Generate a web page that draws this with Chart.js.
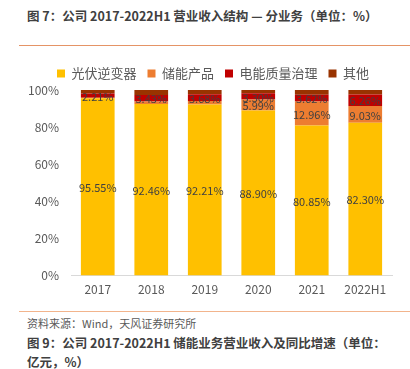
<!DOCTYPE html>
<html>
<head>
<meta charset="utf-8">
<script src="https://cdn.jsdelivr.net/npm/chart.js@4/dist/chart.umd.min.js"></script>
<style>
    body { margin: 0; width: 410px; height: 369px; background: #fff; position: relative; overflow: hidden;
           font-family: "Noto Sans CJK SC", "Noto Sans", sans-serif; }
    .title { position: absolute; left: 27px; font-size: 12.5px; font-weight: bold; color: #404040; white-space: nowrap; }
    .rule { position: absolute; left: 19px; width: 391px; height: 1px; }
    .source { position: absolute; left: 27px; top: 315px; font-size: 11px; color: #595959; }
    #wrap { position: absolute; left: 0; top: 52px; width: 410px; height: 252px; }
</style>
</head>
<body>
<div class="title" style="top:6px">图 7：公司 2017-2022H1 营业收入结构 — 分业务（单位：%）</div>
<div class="rule" style="top:45px; background:#E59466"></div>
<div id="wrap"><canvas id="chart"></canvas></div>
<div class="rule" style="top:311px; background:#F2B48C"></div>
<div class="source">资料来源：Wind，天风证券研究所</div>
<div class="title" style="top:333px">图 9：公司 2017-2022H1 储能业务营业收入及同比增速（单位：</div>
<div class="title" style="top:352px">亿元，%）</div>

<script>
// categories and shares (%)
const years = ['2017', '2018', '2019', '2020', '2021', '2022H1'];
const pvInverter = [95.55, 92.46, 92.21, 88.90, 80.85, 82.30];
const storage = [0.30, 1.40, 1.80, 5.99, 12.96, 9.03];
const powerQuality = [2.21, 3.43, 3.68, 3.30, 3.62, 6.26];
const others = [1.94, 2.71, 2.31, 1.81, 2.57, 2.41];
const yTicks = [0, 20, 40, 60, 80, 100];

// which values get a label printed on the bar
const showStorageLabel = [false, false, false, true, true, true];

const seriesNames = ['光伏逆变器', '储能产品', '电能质量治理', '其他'];
const seriesColors = ['#FFC000', '#ED7D31', '#C00000', '#993300'];

const barLabels = {
    id: 'barLabels',
    afterDatasetsDraw(chart) {
        const ctx = chart.ctx;
        ctx.save();
        ctx.font = '11px "Noto Sans CJK SC", sans-serif';
        ctx.fillStyle = '#404040';
        ctx.textAlign = 'center';
        ctx.textBaseline = 'middle';
        chart.data.datasets.forEach((ds, di) => {
            if (!ds.showLabels) return;
            chart.getDatasetMeta(di).data.forEach((bar, i) => {
                if (!ds.showLabels[i]) return;
                const { x, y, base } = bar.getProps(['x', 'y', 'base'], true);
                ctx.fillText(ds.data[i].toFixed(2) + '%', x, (y + base) / 2 + 1);
            });
        });
        ctx.restore();
    }
};

// nudge the legend so it sits over the plot like the original, and give it a bit more room
const legendTweak = {
    id: 'legendTweak',
    afterLayout(chart) {
        chart.legend.left += 17;
        chart.legend.right += 17;
    }
};

const datasets = [pvInverter, storage, powerQuality, others].map((data, i) => ({
    label: seriesNames[i],
    data: data,
    backgroundColor: seriesColors[i],
    barPercentage: 0.63,
    categoryPercentage: 1,
    showLabels: [years.map(() => true), showStorageLabel, years.map(() => true), null][i]
}));

new Chart(document.getElementById('chart'), {
    type: 'bar',
    data: { labels: years, datasets: datasets },
    options: {
        responsive: true,
        maintainAspectRatio: false,
        animation: false,
        layout: { padding: { left: 0, right: 18, top: 4, bottom: 0 } },
        plugins: {
            legend: {
                position: 'top',
                labels: {
                    boxWidth: 8, boxHeight: 8, padding: 11,
                    color: '#595959',
                    font: { size: 13, family: '"Noto Sans CJK SC", sans-serif' }
                },
                afterFit: null
            },
            tooltip: { enabled: false }
        },
        scales: {
            x: {
                stacked: true,
                grid: { display: false, drawTicks: false },
                border: { color: '#D9D9D9' },
                ticks: { color: '#595959', padding: 7, font: { size: 12, family: '"Noto Sans CJK SC", sans-serif' } }
            },
            y: {
                stacked: true,
                min: 0, max: 100,
                afterBuildTicks: axis => { axis.ticks = yTicks.map(v => ({ value: v })); },
                afterFit: axis => { axis.width = 71; },
                grid: { display: false, drawTicks: false },
                border: { display: false },
                ticks: {
                    color: '#595959', padding: 12,
                    font: { size: 12, family: '"Noto Sans CJK SC", sans-serif' },
                    callback: v => v + '%'
                }
            }
        }
    },
    plugins: [barLabels, legendTweak]
});
</script>
</body>
</html>
